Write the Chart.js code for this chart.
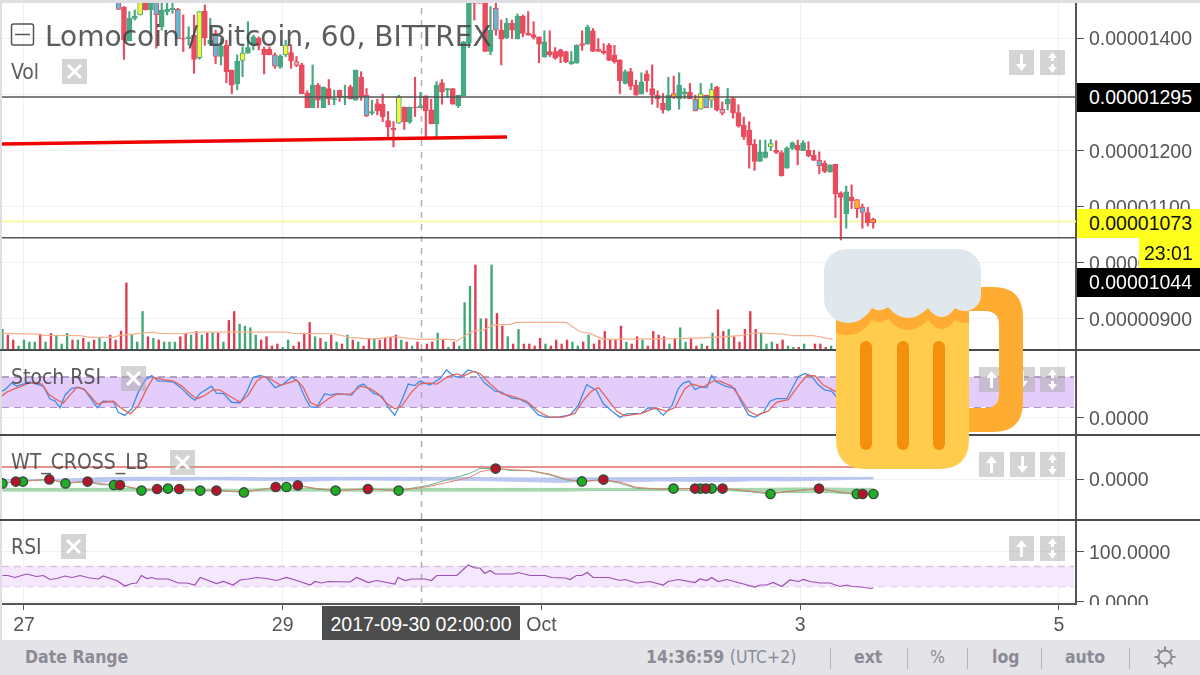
<!DOCTYPE html>
<html>
<head>
<meta charset="utf-8">
<title>Lomocoin / Bitcoin</title>
<script src="https://cdn.jsdelivr.net/npm/chart.js@4"></script>
<style>
html, body { margin: 0; padding: 0; background: #fff; }
#page { position: relative; width: 1200px; height: 675px; overflow: hidden; background: #fff; }
canvas { position: absolute; left: 0; }
.abs { position: absolute; white-space: nowrap; }
.lbl { font-family: "DejaVu Sans Condensed", "DejaVu Sans"; color: rgba(70,70,70,.88); font-size: 21px; line-height: 24px; left: 11px; }
.sep { position: absolute; left: 0; width: 1200px; height: 2px; background: #4a4a4a; }
.price { position: absolute; left: 1077px; width: 123px; font: 19.5px "Liberation Sans"; padding-left: 12px; box-sizing: border-box; }
.tool { position: absolute; top: 640px; height: 35px; line-height: 35px; font: bold 17.5px/35px "DejaVu Sans Condensed", "DejaVu Sans"; color: #8b8b95; white-space: nowrap; }
.bar { position: absolute; top: 648px; width: 1px; height: 21px; background: #b6b6bc; }
.btn { position: absolute; width: 25px; height: 25px; background: rgba(170,170,170,.5); }
.btn svg { display: block; }
</style>
</head>
<body>
<div id="page">
  <canvas id="mainChart" width="1200" height="347" style="top:3px"></canvas>
  <canvas id="stochChart" width="1200" height="84" style="top:350px"></canvas>
  <canvas id="wtChart" width="1200" height="84" style="top:435px"></canvas>
  <canvas id="rsiChart" width="1200" height="120" style="top:520px"></canvas>

  <div class="abs" style="left:0;top:0;width:1200px;height:3px;background:#dfdfe3"></div>
  <div class="abs" style="left:0;top:0;width:2px;height:640px;background:#dfdfe3"></div>
  <div class="sep" style="top:349px"></div>
  <div class="sep" style="top:434px"></div>
  <div class="sep" style="top:519px"></div>
  <div class="abs" style="left:1078px;top:605px;width:122px;height:35px;background:#fff"></div>

  <svg class="abs" style="left:10px;top:22px" width="26" height="26"><rect x="1.5" y="2" width="22" height="21" rx="2" fill="none" stroke="#555" stroke-width="1.5"/><line x1="5" x2="20" y1="12.5" y2="12.5" stroke="#555" stroke-width="1.5"/></svg>
  <div class="abs lbl" style="left:45px;top:19px;font-family:'DejaVu Sans';font-size:28px;line-height:36px">Lomocoin / Bitcoin, 60, BITTREX</div>
  <div class="abs lbl" style="top:60px">Vol</div>
  <div class="abs lbl" style="top:365px">Stoch RSI</div>
  <div class="abs lbl" style="top:450px">WT_CROSS_LB</div>
  <div class="abs lbl" style="top:535px">RSI</div>

  <div class="price" style="top:83px;height:29px;line-height:29px;background:#000;color:#fff">0.00001295</div>
  <div class="price" style="top:209px;height:29px;line-height:29px;background:#ffff1e;color:#111">0.00001073</div>
  <div class="price" style="top:238px;left:1139px;width:61px;height:30px;line-height:30px;padding-left:5px;background:#ffff1e;color:#111">23:01</div>
  <div class="price" style="top:268px;height:29px;line-height:29px;background:#000;color:#fff">0.00001044</div>

  <div class="abs" style="left:322px;top:606px;width:198px;height:34px;line-height:36px;background:#4d4d4d;color:#fff;font:19.5px/36px 'Liberation Sans';text-align:center">2017-09-30 02:00:00</div>

  <div class="abs" style="left:0;top:640px;width:1200px;height:35px;background:#e3e3e8"></div>
  <div class="tool" style="left:25px">Date Range</div>
  <div class="tool" style="left:646px">14:36:59 <span style="font-weight:normal">(UTC+2)</span></div>
  <div class="bar" style="left:830px"></div>
  <div class="tool" style="left:854px">ext</div>
  <div class="bar" style="left:907px"></div>
  <div class="tool" style="left:930px;font-weight:normal">%</div>
  <div class="bar" style="left:967px"></div>
  <div class="tool" style="left:992px">log</div>
  <div class="bar" style="left:1041px"></div>
  <div class="tool" style="left:1065px">auto</div>
  <div class="bar" style="left:1129px"></div>
  <svg class="abs" style="left:1153px;top:645px" width="24" height="24" fill="none" stroke="#8b8b95" stroke-width="2">
    <circle cx="12" cy="12" r="6.5"/>
    <path d="M12 1.5v4M12 18.5v4M1.5 12h4M18.5 12h4M4.6 4.6l2.8 2.8M16.6 16.6l2.8 2.8M4.6 19.4l2.8-2.8M16.6 7.4l2.8-2.8"/>
  </svg>

  <svg class="abs" style="left:0;top:0" width="1200" height="675">
    <path fill="#FFAC33" d="M960 287H993Q1023 287 1023 317V402Q1023 432 993 432H960V408H985Q999 408 999 394V325Q999 311 985 311H960Z"/>
    <path fill="#FFCC4D" d="M836 300H969V439Q969 469 939 469H866Q836 469 836 439Z"/>
    <path fill="#FFAC33" d="M836 300H969V323Q959 323 955 320Q949 329 942 329Q934 329 928 320Q918 330 908 330Q897 330 888 319Q880 325 872 320Q862 335 848 335Q842 335 836 333Z"/>
    <path fill="#E1E8ED" d="M846 249H959A22 22 0 0 1 981 271V295A16 16 0 0 1 965 311Q959 311 955 308Q949 317 942 317Q934 317 928 308Q918 318 908 318Q897 318 888 307Q880 313 872 308Q862 323 848 323A24 24 0 0 1 824 299V271A22 22 0 0 1 846 249Z"/>
    <rect x="860" y="341" width="12" height="109" rx="6" fill="#F4900C"/>
    <rect x="897" y="341" width="12" height="109" rx="6" fill="#F4900C"/>
    <rect x="933" y="341" width="12" height="109" rx="6" fill="#F4900C"/>
  </svg>
</div>

<script>
// prices are in 1e-8 BTC
const candleStart = 17.55;
const opens = [1470,1455,1395,1435,1441,1468,1450,1465,1420,1447,1450,1451,1399,1399,1405,1365,1448,1390,1408,1367,
  1387,1343,1318,1360,1373,1387,1400,1380,1380,1370,1348,1370,1374,1358,1352,1302,1276,1316,1276,1310,
  1290,1307,1294,1313,1289,1330,1298,1266,1283,1282,1253,1239,1248,1277,1250,1277,1276,1297,1272,1247,
  1320,1307,1310,1279,1297,1391,1465,1465,1465,1376,1453,1414,1400,1426,1399,1439,1409,1406,1402,1366,
  1376,1376,1379,1376,1354,1355,1390,1389,1413,1380,1377,1387,1370,1361,1319,1340,1316,1301,1336,1310,
  1298,1284,1272,1301,1292,1301,1303,1291,1273,1298,1289,1312,1273,1282,1292,1267,1245,1236,1211,1180,
  1187,1206,1200,1196,1168,1203,1209,1199,1200,1191,1182,1177,1161,1175,1124,1087,1117,1112,1098,1089,1077];
const highs = [1475,1456,1447,1450,1470,1470,1470,1470,1465,1465,1465,1453,1441,1420,1441,1447,1459,1435,1414,1399,
  1396,1343,1370,1384,1429,1405,1402,1384,1384,1373,1370,1396,1388,1367,1355,1306,1352,1319,1313,1326,
  1307,1307,1316,1316,1343,1340,1310,1289,1291,1300,1269,1251,1298,1277,1277,1330,1303,1297,1291,1322,
  1326,1310,1310,1298,1394,1470,1470,1468,1470,1456,1465,1432,1435,1432,1443,1441,1447,1429,1402,1413,
  1413,1383,1380,1376,1376,1388,1413,1423,1417,1399,1390,1390,1387,1361,1343,1346,1325,1338,1342,1352,
  1306,1301,1330,1332,1338,1310,1319,1298,1319,1298,1319,1314,1286,1310,1294,1281,1259,1251,1219,1218,
  1218,1219,1217,1199,1206,1215,1218,1217,1215,1200,1197,1181,1174,1175,1126,1136,1138,1112,1104,1098,1079];
const lows = [1451,1362,1395,1432,1441,1450,1402,1382,1414,1441,1444,1399,1376,1387,1337,1362,1387,1387,1354,1352,
  1320,1301,1308,1331,1373,1379,1379,1336,1370,1346,1346,1367,1346,1349,1301,1276,1276,1276,1276,1281,
  1281,1287,1281,1291,1289,1289,1260,1263,1263,1251,1221,1206,1248,1237,1248,1260,1276,1224,1247,1224,
  1282,1295,1282,1276,1297,1383,1432,1462,1376,1370,1405,1352,1399,1399,1398,1402,1405,1398,1356,1366,
  1367,1362,1356,1356,1353,1355,1378,1389,1376,1376,1371,1360,1355,1301,1318,1308,1298,1300,1304,1282,
  1276,1266,1270,1292,1273,1292,1292,1270,1273,1276,1276,1270,1263,1272,1257,1241,1219,1168,1164,1180,
  1186,1199,1194,1154,1168,1201,1174,1199,1188,1182,1158,1160,1161,1080,1040,1061,1096,1080,1061,1065,1061];
const closes = [1451,1396,1435,1439,1465,1450,1465,1441,1450,1451,1453,1399,1398,1402,1362,1447,1400,1396,1367,1385,
  1340,1316,1359,1373,1383,1402,1387,1370,1370,1350,1368,1388,1359,1351,1301,1276,1316,1289,1312,1292,
  1292,1295,1296,1292,1343,1295,1261,1269,1270,1260,1241,1236,1295,1251,1277,1276,1279,1270,1247,1316,
  1304,1310,1282,1298,1393,1465,1462,1462,1376,1414,1414,1398,1426,1414,1439,1408,1405,1401,1389,1393,
  1370,1364,1367,1358,1358,1387,1387,1419,1376,1376,1373,1360,1358,1324,1340,1314,1298,1322,1324,1298,
  1292,1272,1298,1294,1316,1304,1292,1270,1301,1276,1308,1272,1266,1291,1266,1243,1224,1209,1180,1197,
  1197,1212,1196,1154,1204,1213,1200,1213,1190,1182,1172,1162,1174,1122,1116,1126,1110,1096,1089,1071,1071];

// candles drawn hollow with a coloured centre
const blueCandles = [0,7,11,18,29,46,70,107,109,130,138];
const greyCandles = [33,112];
const yellowCandles = [4,15,23,31,52,108,110,121];
const orangeCandles = [103,137,140];

const volumes = [62,45,30,12,30,24,24,46,24,50,45,18,50,30,30,35,24,30,35,24,45,30,57,202,45,24,116,40,35,30,24,24,24,40,50,45,56,45,51,51,
  51,24,89,116,78,72,67,45,30,40,12,18,8,30,12,24,50,83,40,35,24,45,24,18,45,30,24,12,35,35,30,35,38,45,30,24,12,24,
  18,24,51,30,8,24,12,143,192,256,94,94,256,110,72,40,18,62,18,18,12,35,18,12,30,18,30,24,12,24,45,18,30,56,30,30,72,24,18,40,
  30,12,56,45,40,18,35,67,24,35,12,18,12,51,121,56,62,40,24,62,116,62,51,18,24,18,30,12,8,8,18,0,18,18,8,12];
const volumeSides = ['g','r','r','g','g','g','g','r','g','r','g','g','g','r','g','r','g','r','g','g','r','r','r','r','g','g','g','r','g','r','g','g','g','r','r','g','r','g','r','g',
  'r','g','r','r','g','g','g','g','r','r','r','r','g','g','r','r','r','r','g','r','g','r','g','r','g','r','g','r','r','g','r','r','r','r','g','r','g','r',
  'r','r','g','r','g','r','g','g','g','r','g','r','g','r','r','g','r','g','r','r','r','r','g','r','r','r','r','g','g','r','g','r','r','r','r','r','r','g','r','r',
  'g','r','r','r','r','g','r','g','g','r','r','g','r','g','r','r','g','r','r','r','r','r','g','g','g','r','r','g','g','r','g','g','r','r','r','g'];

const maHours = [-4,3,3.6,10.4,12.2,16.6,17.8,20.3,23.7,25.2,28.9,32.7,48.7,50,57.4,60.5,64.8,68.5,71.6,73.5,79.7,80.3,81.5,83.4,85.2,87,90.2,91.4,100.6,103.2,105,107.5,121.7,127.8,132.8,135.9,140.9,142.7,146.4,150.1];
const maValues = [50,48,44,43,38,38,44,48,54,50,49,54,54,50,49,38,33,40,34,32,32,27,40,58,60,75,77,83,83,55,50,32,34,38,43,52,48,43,43,32];

const kHours = [-4.5,-3.5,-2.3,-1.4,-.1,1.1,2.3,3.6,4.8,5.8,6.7,7.6,8.8,10.1,11.3,12.6,13.6,14.7,16.6,17.5,18.7,20,21.2,22.5,23.7,24.9,26.2,27.7,29.3,30.5,31.7,32.7,34.8,35.7,37,38.5,40.1,41.3,42.5,43.8,45,46.6,48.1,49.7,50.9,52.1,53.1,54.3,55.8,56.8,58,60.8,62,63,64.8,66.4,67.6,68.8,70.1,71.3,72.5,
  73.5,75.3,77.2,78.4,79.7,80.9,82.4,84,85.5,87.4,88.6,90.5,92,93.6,95.4,97,99.4,101.3,102.8,104.4,106.2,107.5,109,110.6,111.8,114.6,115.8,117.4,118.6,120.2,121.4,122.3,123.4,124.5,125.4,126.7,127.6,128.5,130.1,131.9,133.1,134.4,135.6,137.2,138.4,139.6,141.5,143.7,144.9,146.1,147.4,148.6,149.8,150.8];
const kValues = [50,55,68,62,66,70,66,62,37,32,19,44,57,60,54,34,19,32,31,10,4,17,50,74,83,72,72,70,57,44,34,48,62,48,47,30,29,50,79,83,79,59,66,80,70,40,21,20,47,44,47,44,62,66,48,42,20,4,34,66,63,
  72,64,77,94,82,79,94,89,68,52,50,38,36,27,5,0,1,5,23,65,54,27,13,0,7,8,19,17,4,23,57,68,72,55,60,59,83,70,62,57,30,5,0,10,32,37,37,81,87,82,64,54,52,40];
const dHours = [-4.5,-3.2,-1.7,-.4,.8,2,3.3,4.5,5.8,7.3,8.5,9.8,11,12.2,13.6,14.7,16.6,17.8,19.7,21.2,22.8,24,25.9,27.7,29.3,30.8,32.1,33.3,35.1,36.4,38.2,40.1,41.6,43.2,44.4,45.6,47.5,48.7,50.6,51.8,53.1,54.6,56.5,58,60.5,62.6,64.2,65.7,67.3,68.8,70.1,71.9,
  73.5,75.3,76.6,78.7,80.3,81.5,83.4,84.6,86.5,88.6,90.5,93.3,95.4,97.3,99.8,102.2,103.8,105.3,106.6,108.4,110,111.5,114.6,117.1,119.2,120.8,122.6,123.9,126,127.9,129.1,131.3,132.8,134.4,135.9,138.1,139.6,141.8,143.4,145.2,146.8,148.3,150.8];
const dValues = [39,50,57,62,68,68,66,47,37,28,44,59,57,44,26,30,32,20,7,23,57,79,75,72,62,47,37,42,55,54,42,30,44,72,81,77,64,67,74,60,30,22,37,46,46,62,57,47,28,17,23,50,
  67,68,66,81,86,82,91,87,66,47,42,32,12,1,0,8,34,52,59,34,12,3,8,19,12,20,57,66,60,72,72,62,40,13,4,13,30,35,59,83,82,64,50];

const wtHours = [-4,-1.5,1.5,4.7,7.7,11.8,14,16.7,17.8,21.8,24.7,26.7,28.8,32.7,35.7,40.8,46.7,48.7,50.8,54,57.8,63.8,69.5,75,78.4,82.7,84.6,87.5,90.8,93.9,97.6,100.7,103.5,107.5,110.6,113.7,117.4,120.5,124.5,127.6,129.6,132.8,138.5,142.1,147.5,151.4,154.5,157.6];
const wtFast = [-22,-13,-8,-2,-22,-13,-28,-30,-30,-58,-50,-48,-50,-58,-58,-67,-40,-40,-32,-50,-58,-50,-58,-32,-5,28,53,52,42,42,20,-5,-12,-3,-22,-47,-50,-48,-48,-48,-48,-58,-75,-60,-48,-68,-75,-75];
const wtSlow = [-18,-13,-7,-2,-18,-13,-22,-30,-30,-52,-50,-48,-50,-56,-58,-64,-44,-40,-32,-46,-58,-50,-58,-38,-18,8,36,52,46,42,24,-2,-12,-3,-16,-42,-50,-48,-48,-48,-48,-54,-72,-63,-48,-64,-75,-75];
const upCrossHours = [-4,-.2,7.7,16.7,21.8,26.7,32.7,40.8,48.7,57.8,69.5,103.5,120.5,125.5,127.6,138.5,154.5,157.6];
const upCrossValues = [-22,-13,-22,-30,-58,-48,-58,-67,-40,-58,-58,-12,-48,-48,-48,-75,-75,-75];
const downCrossHours = [-1.5,4.7,11.8,17.8,24.7,28.8,35.7,46.7,50.8,63.8,87.5,107.5,124.5,126.5,129.6,147.5,155.6];
const downCrossValues = [-13,-2,-13,-30,-50,-50,-58,-40,-32,-50,52,-3,-48,-48,-48,-48,-75];

const bandHours = [-4,4,8,12,16,20,24,28,34,40,46,52,58,64,70,76,80,88,94,100,106,112,118,124,130,136,142,148,154,157.6];
const blueTop = [-2,-2,0,4,8,8,8,8,8,8,6,8,8,8,8,8,8,6,5,5,6,6,6,8,8,8,8,8,8,8];
const blueBottom = [-8,-8,-8,-18,-14,-8,-6,-8,-4,-6,-8,-12,-6,-5,-8,-6,-6,-10,-14,-18,-10,-14,-10,-12,-14,-8,-10,-6,-2,0];
const greenTop = [-47,-47,-47,-47,-47,-47,-50,-50,-50,-52,-47,-47,-50,-47,-47,-47,-47,-47,-47,-47,-47,-47,-47,-47,-47,-47,-45,-45,-47,-47];
const greenBottom = [-60,-60,-60,-60,-60,-60,-60,-60,-60,-60,-60,-60,-60,-60,-60,-60,-60,-60,-60,-60,-58,-58,-58,-58,-58,-64,-68,-66,-75,-72];

const rsiHours = [-4,-3,-1.7,.5,2.3,3.6,4.8,6.1,7.6,8.9,10.4,12.2,13.8,14.7,16,17.2,18.7,20,20.9,21.8,22.8,23.7,24.6,26.8,28.6,30.2,31.7,32.7,34.2,35.7,37,38.8,40.1,41.6,43.2,45,46.9,48.7,50.6,53.1,54,55.2,56.5,60.5,61.7,63.9,65.4,68.8,69.4,70.7,71.9,74.4,75.6,76.6,78.7,
  80.3,82.4,83.7,84.6,85.5,86.5,87.4,90.8,91.7,93.9,96.7,97.9,100.4,101.3,102.5,103.5,104.5,105.6,108.4,110.6,111.5,113.7,116.1,118.6,119.5,121.4,124.5,125.4,126.7,127.6,128.8,130.4,133.5,135.6,136.6,137.8,139,140.6,142.1,143.7,144.6,145.8,147.7,149.5,151.4,152.6,153.6,155.4,157,157.6];
const rsiValues = [52,52,48,55,50,52,44,46,51,48,52,47,45,51,46,42,31,36,37,52,46,48,45,45,37,37,33,48,42,36,40,33,43,45,48,46,42,48,42,33,40,37,40,39,48,38,42,35,48,42,45,45,42,52,52,
  52,73,67,67,56,62,55,55,58,52,52,48,47,44,52,52,58,48,48,42,44,37,40,33,40,44,38,45,42,48,40,44,35,29,33,33,38,30,43,40,44,40,37,37,30,33,30,29,26,27];

const tickHours = [0,48,96,144,192];
const tickLabels = ['27','29','Oct','3','5'];
const priceTicks = [900,1000,1100,1200,1300,1400];
const levelHigh = 1295, levelLast = 1073, levelLow = 1044;
const trendHours = [-4.08,89.6];
const trendPrices = [1211,1223.5];
const crossHour = 73.75;

const xMin = -4.08, xMax = 195.18;
const gridColor = '#eef1f6', axisColor = '#555';
const red = '#e94b5f', green = '#46a981';
const labelFont = { family: 'Liberation Sans', size: 19.5 };

function line(xs, ys, color, width, extra) {
  return Object.assign({
    type: 'line',
    data: xs.map((x, i) => ({ x: x, y: ys[i] })),
    borderColor: color,
    borderWidth: width,
    pointRadius: 0,
    tension: 0,
    fill: false
  }, extra || {});
}

function crosshair(yMin, yMax) {
  return line([crossHour, crossHour], [yMin, yMax], '#aeaeae', 1.5, { borderDash: [6, 6] });
}

function dots(xs, ys, color) {
  return line(xs, ys, 'transparent', 0, {
    pointRadius: 4.6,
    pointBackgroundColor: color,
    pointBorderColor: '#34493c',
    pointBorderWidth: 1.4
  });
}

function xScale(showLabels) {
  return {
    type: 'linear',
    offset: false,
    min: xMin,
    max: xMax,
    afterBuildTicks: s => { s.ticks = tickHours.map(v => ({ value: v })); },
    afterFit: s => { s.height = showLabels ? 36 : 0; s.paddingLeft = 0; s.paddingRight = 0; },
    border: showLabels ? { color: axisColor, width: 2 } : { display: false },
    grid: { offset: false, color: gridColor, tickColor: axisColor, tickLength: 6, drawTicks: showLabels },
    ticks: {
      display: showLabels,
      color: axisColor,
      font: labelFont,
      padding: 4,
      maxRotation: 0,
      autoSkip: false,
      callback: v => tickLabels[tickHours.indexOf(v)]
    }
  };
}

function yScale(min, max, ticks, format) {
  return {
    position: 'right',
    min: min,
    max: max,
    afterBuildTicks: s => { s.ticks = ticks.map(v => ({ value: v })); },
    afterFit: s => { s.width = 124; s.paddingTop = 0; s.paddingBottom = 0; },
    border: { color: axisColor, width: 2 },
    grid: { color: gridColor, tickColor: axisColor, tickLength: 8 },
    // empty first line with a short line height drops the label 2px below its tick
    ticks: {
      color: axisColor,
      font: Object.assign({ lineHeight: '4px' }, labelFont),
      padding: 5,
      autoSkip: false,
      callback: v => ['', format(v)]
    }
  };
}

function makeChart(id, datasets, scales) {
  return new Chart(document.getElementById(id).getContext('2d'), {
    type: 'bar',
    data: { datasets: datasets },
    options: {
      responsive: false,
      animation: false,
      events: [],
      layout: { autoPadding: false, padding: { left: 2, right: 0, top: 0, bottom: 0 } },
      plugins: { legend: { display: false }, tooltip: { enabled: false } },
      scales: scales
    }
  });
}

// main pane: candles, volume and drawn levels
const candleHours = opens.map((o, i) => candleStart + i);
const candleColor = closes.map((c, i) => c >= opens[i] ? green : red);
const bodyFill = candleColor.map((c, i) => {
  if (blueCandles.includes(i)) return '#58bdd8';
  if (greyCandles.includes(i)) return '#c8b8be';
  if (yellowCandles.includes(i)) return '#f5f53a';
  if (orangeCandles.includes(i)) return '#ffb224';
  return c;
});
const volumeHours = volumes.map((v, i) => i < 78 ? i - 4 : i - 3.25);
const flat = (v) => [v, v];
const edges = [xMin, xMax];
const bandEdges = [xMin, 194.8];

makeChart('mainChart', [
  line(edges, flat(levelHigh), '#555', 1.5),
  line(edges, flat(levelLow), '#555', 1.5),
  line(trendHours, trendPrices, '#f00000', 3.5),
  {
    data: candleHours.map((x, i) => ({ x: x, y: [opens[i], closes[i]] })),
    yAxisID: 'y',
    grouped: false,
    barThickness: 5,
    backgroundColor: bodyFill,
    borderColor: candleColor,
    borderWidth: 1,
    borderSkipped: false
  },
  {
    data: candleHours.map((x, i) => ({ x: x, y: [lows[i], highs[i]] })),
    yAxisID: 'y',
    grouped: false,
    barThickness: 1.5,
    backgroundColor: candleColor
  },
  line(edges, flat(levelLast), '#fbfba6', 2),
  crosshair(843.9, 1462.4),
  line(maHours, maValues, '#f6b18c', 1.2, { yAxisID: 'vol' }),
  {
    data: volumeHours.map((x, i) => ({ x: x, y: volumes[i] })),
    yAxisID: 'vol',
    grouped: false,
    barThickness: 1.7,
    backgroundColor: volumes.map((v, i) => volumeSides[i] === 'g' ? '#3fa874' : '#e03c50')
  }
], {
  x: xScale(false),
  y: yScale(843.9, 1462.4, priceTicks, v => (v / 1e8).toFixed(8)),
  vol: { display: false, min: 0, max: 1045 }
});

const fourDigits = v => v.toFixed(4);

// stochastic pane
makeChart('stochChart', [
  line(dHours, dValues, '#e2655c', 1.3),
  line(kHours, kValues, '#3f8ee8', 1.3),
  crosshair(-33, 134),
  line(bandEdges, flat(80), '#9a85ae', 1.5, { borderDash: [7, 5], fill: '+1', backgroundColor: '#e4ccfb' }),
  line(bandEdges, flat(20), '#9a85ae', 1.5, { borderDash: [7, 5] })
], { x: xScale(false), y: yScale(-32.9, 133.5, [0], fourDigits) });

// wave trend pane
makeChart('wtChart', [
  dots(downCrossHours, downCrossValues, '#b8132a'),
  dots(upCrossHours, upCrossValues, '#1fae22'),
  line(wtHours, wtSlow, '#e2806f', 1),
  line(wtHours, wtFast, '#67b584', 1),
  crosshair(-200, 220),
  line([xMin, 157.6], flat(60), '#e06a6a', 1.6),
  line(bandHours, blueTop, '#b9c3f0', 1, { fill: '+1', backgroundColor: '#bcc7f1' }),
  line(bandHours, blueBottom, '#c6cff4', 1),
  line(bandHours, greenTop, '#9ed3a6', 1, { fill: '+1', backgroundColor: '#a9d8b0' }),
  line(bandHours, greenBottom, '#8cc897', 1)
], { x: xScale(false), y: yScale(-200, 220, [0], fourDigits) });

// rsi pane, carries the time axis
makeChart('rsiChart', [
  line(rsiHours, rsiValues, '#9a4fb1', 1.2),
  crosshair(-5, 163),
  line(bandEdges, flat(70), '#d5c6e0', 1.5, { borderDash: [7, 5], fill: '+1', backgroundColor: '#f5e7fd' }),
  line(bandEdges, flat(30), '#d5c6e0', 1.5, { borderDash: [7, 5] })
], { x: xScale(true), y: yScale(-5, 163, [0, 100], fourDigits) });

// small grey pane buttons
const icons = {
  close: '<path d="M6 6L19 19M19 6L6 19" stroke="#fff" stroke-width="3" fill="none"/>',
  up: '<path fill="#fff" d="M11 21V11H7L12.5 4L18 11H14V21Z"/>',
  down: '<path fill="#fff" d="M11 4V14H7L12.5 21L18 14H14V4Z"/>',
  both: '<path fill="#fff" d="M12.5 2L17 8H14V11H11V8H8ZM11 14H14V17H17L12.5 23L8 17H11Z"/>'
};
const buttonSpots = [
  ['close', 62, 59], ['down', 1009, 50], ['both', 1040, 50],
  ['close', 121, 366], ['up', 979, 367], ['down', 1010, 367], ['both', 1040, 367],
  ['close', 170, 450], ['up', 979, 452], ['down', 1010, 452], ['both', 1040, 452],
  ['close', 61, 534], ['up', 1009, 536], ['both', 1040, 536]
];
const page = document.getElementById('page');
const beer = page.lastElementChild;
buttonSpots.forEach(b => {
  const el = document.createElement('div');
  el.className = 'btn';
  el.style.left = b[1] + 'px';
  el.style.top = b[2] + 'px';
  el.innerHTML = '<svg width="25" height="25">' + icons[b[0]] + '</svg>';
  page.insertBefore(el, beer);
});
</script>
</body>
</html>
